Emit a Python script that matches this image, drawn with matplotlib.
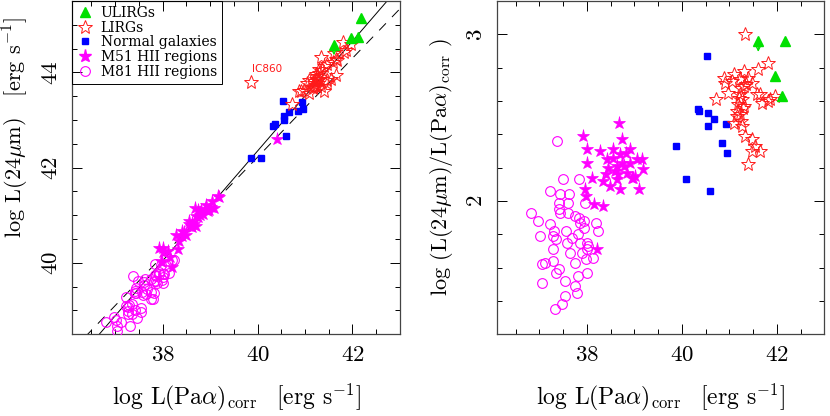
import matplotlib
matplotlib.use('Agg')
import matplotlib.pyplot as plt
import numpy as np
from matplotlib.lines import Line2D
from matplotlib.ticker import MultipleLocator

plt.rcParams['font.family'] = ['cmr10', 'DejaVu Serif']
plt.rcParams['mathtext.fontset'] = 'cm'
plt.rcParams['axes.formatter.use_mathtext'] = True
plt.rcParams['axes.unicode_minus'] = False

# ---------------- data ----------------
# x: log L(Pa alpha)_corr ; ratio: log(L(24um)/L(Pa alpha)_corr)
ulirg_pa = [41.61, 42.18, 41.97, 42.12]
ulirg_ratio = [2.96, 2.96, 2.75, 2.63]
ulirg_upper = [True, False, False, False]

lirg_pa = [41.33, 41.81, 41.61, 41.30, 41.09, 40.88, 40.91, 41.23, 41.47, 41.30,
           40.98, 40.72, 41.23, 41.26, 41.19, 41.65, 41.68, 41.86, 41.96, 41.16,
           41.16, 41.09, 41.26, 41.33, 41.47, 41.54, 41.47, 41.65, 41.40, 41.25,
           41.28, 41.22, 41.35, 41.20, 41.58, 41.82, 41.40, 41.05, 41.30, 41.24]
lirg_ratio = [3.00, 2.83, 2.79, 2.78, 2.76, 2.74, 2.71, 2.73, 2.71, 2.69,
              2.65, 2.61, 2.64, 2.61, 2.58, 2.64, 2.59, 2.61, 2.63, 2.54,
              2.51, 2.47, 2.45, 2.39, 2.37, 2.33, 2.30, 2.30, 2.22, 2.68,
              2.56, 2.52, 2.70, 2.62, 2.64, 2.60, 2.74, 2.72, 2.57, 2.48]

normal_pa = [40.54, 40.37, 40.33, 40.55, 40.67, 40.55, 40.93, 39.87, 40.85, 40.95, 40.08, 40.60]
normal_ratio = [2.87, 2.54, 2.55, 2.53, 2.49, 2.45, 2.46, 2.33, 2.35, 2.29, 2.13, 2.06]

m51_pa = [38.68, 37.92, 38.74, 38.01, 38.28, 38.56, 38.91, 38.00, 38.42, 38.70,
          38.74, 39.05, 39.16, 39.19, 38.11, 38.41, 38.35, 38.63, 38.95, 39.02,
          38.49, 38.70, 39.09, 37.96, 37.99, 38.15, 38.33, 38.21, 38.63, 38.79,
          38.90, 38.98, 38.60, 38.85, 38.55, 38.66, 38.82, 38.45]
m51_ratio = [2.47, 2.39, 2.37, 2.31, 2.30, 2.31, 2.31, 2.23, 2.25, 2.28,
             2.23, 2.25, 2.25, 2.19, 2.14, 2.16, 2.12, 2.13, 2.14, 2.15,
             2.09, 2.07, 2.07, 2.07, 2.03, 1.98, 1.97, 1.71, 2.21, 2.21,
             2.23, 2.14, 2.18, 2.17, 2.26, 2.16, 2.29, 2.20]

m81_pa = [37.37, 37.49, 37.84, 37.23, 37.44, 37.63, 37.61, 37.42, 37.96, 37.42,
          37.44, 37.61, 36.82, 36.98, 37.23, 37.75, 37.84, 37.93, 38.20, 37.56,
          37.93, 38.24, 37.30, 37.02, 37.28, 37.68, 37.82, 37.58, 37.86, 38.01,
          38.03, 37.28, 37.65, 37.89, 38.13, 37.99, 37.05, 37.12, 37.28, 37.42,
          37.35, 37.75, 37.82, 38.00, 37.05, 37.54, 37.75, 37.79, 37.54, 37.47,
          37.32, 38.00, 37.86, 37.36]
m81_ratio = [2.36, 2.13, 2.13, 2.06, 2.04, 2.04, 1.99, 1.99, 1.99, 1.95,
             1.93, 1.93, 1.93, 1.88, 1.86, 1.91, 1.90, 1.88, 1.87, 1.82,
             1.84, 1.82, 1.82, 1.79, 1.79, 1.78, 1.80, 1.75, 1.75, 1.75,
             1.73, 1.71, 1.69, 1.69, 1.66, 1.65, 1.62, 1.63, 1.64, 1.59,
             1.57, 1.63, 1.55, 1.57, 1.51, 1.52, 1.49, 1.45, 1.43, 1.38,
             1.35, 1.71, 1.87, 1.77]

# points only shown in the left panel (log L(Pa alpha), log L(24um))
ic860_pa, ic860_l24 = 39.86, 43.79
m51_extra_pa, m51_extra_l24 = 40.41, 42.61

# relations in the left panel
fit_slope, fit_intercept = 1.155, -3.85
dash_slope, dash_intercept = 1.04, 0.62

xlim = (36.1, 43.0)
ylim_left = (38.5, 45.5)
ylim_right = (1.2, 3.2)

def arr(a):
    return np.asarray(a, dtype=float)

# ---------------- figure ----------------
fig = plt.figure(figsize=(8.3, 4.16), dpi=100)
axL = fig.add_axes([0.0871, 0.1964, 0.3948, 0.801])
axR = fig.add_axes([0.5984, 0.1964, 0.3947, 0.801])

GREEN = '#00e000'
RED = '#ff1a1a'
BLUE = '#0000ff'
MAG = '#ff00ff'

XLABEL = r'log L(Pa$\alpha$)$_{\rm corr}$ $\,$ [erg s$^{-1}$]'

def draw(ax, left):
    def yv(pa, ratio):
        return arr(pa) + arr(ratio) if left else arr(ratio)
    ax.plot(m81_pa, yv(m81_pa, m81_ratio), 'o', ls='none', mfc='none', mec=MAG, ms=7.0, mew=0.8, zorder=3)
    ax.plot(m51_pa, yv(m51_pa, m51_ratio), '*', ls='none', mfc=MAG, mec=MAG, ms=9.5, mew=0.5, zorder=4)
    ax.plot(normal_pa, yv(normal_pa, normal_ratio), 's', ls='none', mfc=BLUE, mec=BLUE, ms=4.3, zorder=5)
    ax.plot(lirg_pa, yv(lirg_pa, lirg_ratio), '*', ls='none', mfc='none', mec=RED, ms=10.5, mew=0.7, zorder=6)
    ax.plot(ulirg_pa, yv(ulirg_pa, ulirg_ratio), '^', ls='none', mfc=GREEN, mec=GREEN, ms=7.5, zorder=7)
    ux = arr(ulirg_pa)[np.array(ulirg_upper)]
    uy = yv(ulirg_pa, ulirg_ratio)[np.array(ulirg_upper)]
    dy = 0.21 if left else 0.065
    for x0, y0 in zip(ux, uy):
        ax.annotate('', xy=(x0, y0 - dy), xytext=(x0, y0),
                    arrowprops=dict(arrowstyle='->', color=GREEN, lw=0.9,
                                    mutation_scale=7, shrinkA=0, shrinkB=0), zorder=7)
    ax.set_xlim(*xlim)
    ax.xaxis.set_major_locator(MultipleLocator(2))
    ax.xaxis.set_minor_locator(MultipleLocator(0.5))
    ax.tick_params(which='both', direction='in', top=True, right=True,
                   labelsize=16.5, color='black')
    ax.tick_params(which='major', length=7, width=0.7, pad=8)
    ax.tick_params(which='minor', length=3.5, width=0.7)
    ax.tick_params(axis='y', labelrotation=90)
    for sp in ax.spines.values():
        sp.set_linewidth(0.9)
        sp.set_color('#444444')
    ax.set_xlabel(XLABEL, fontsize=17, labelpad=12)

draw(axL, True)
draw(axR, False)

# left panel extras
xs = np.array(xlim)
axL.plot(xs, fit_slope * xs + fit_intercept, color='black', lw=0.7, zorder=2)
axL.plot(xs, dash_slope * xs + dash_intercept, color='black', lw=0.7,
         dashes=(10, 9), zorder=2)
axL.plot([ic860_pa], [ic860_l24], '*', ls='none', mfc='none', mec=RED, ms=10.5, mew=0.7, zorder=6)
axL.text(ic860_pa + 0.34, ic860_l24 + 0.28, 'IC860', color=RED, fontsize=7.5,
         family='DejaVu Sans', ha='center', va='center')
axL.plot([m51_extra_pa], [m51_extra_l24], '*', ls='none', mfc=MAG, mec=MAG, ms=9.5, mew=0.5, zorder=4)

axL.set_ylim(*ylim_left)
axL.yaxis.set_major_locator(MultipleLocator(2))
axL.yaxis.set_minor_locator(MultipleLocator(0.5))
axL.set_ylabel(r'log L(24$\mu$m) $\;$ [erg s$^{-1}$]', fontsize=16)
axL.yaxis.set_label_coords(-0.125, 0.62)

axR.set_ylim(*ylim_right)
axR.yaxis.set_major_locator(MultipleLocator(1))
axR.yaxis.set_minor_locator(MultipleLocator(0.2))
axR.set_ylabel(r'log (L(24$\mu$m)/L(Pa$\alpha$)$_{\rm corr}$ )', fontsize=16, labelpad=8)

for ax in (axL, axR):
    for lab in ax.get_yticklabels():
        lab.set_va('center')

handles = [
    Line2D([], [], ls='none', marker='^', mfc=GREEN, mec=GREEN, ms=7.5),
    Line2D([], [], ls='none', marker='*', mfc='none', mec=RED, ms=10.5, mew=0.7),
    Line2D([], [], ls='none', marker='s', mfc=BLUE, mec=BLUE, ms=4.3),
    Line2D([], [], ls='none', marker='*', mfc=MAG, mec=MAG, ms=9.5),
    Line2D([], [], ls='none', marker='o', mfc='none', mec=MAG, ms=7.0, mew=0.8),
]
labels = ['ULIRGs', 'LIRGs', 'Normal galaxies', 'M51 HII regions', 'M81 HII regions']
leg = axL.legend(handles, labels, loc='upper left', borderaxespad=0,
                 prop={'family': 'DejaVu Serif', 'size': 10},
                 frameon=True, fancybox=False, edgecolor='black', facecolor='none',
                 framealpha=1, handlelength=1.2, handletextpad=0.5, labelspacing=0.05,
                 borderpad=0.35)
leg.get_frame().set_linewidth(0.7)

fig.savefig('out.png', dpi=100)
